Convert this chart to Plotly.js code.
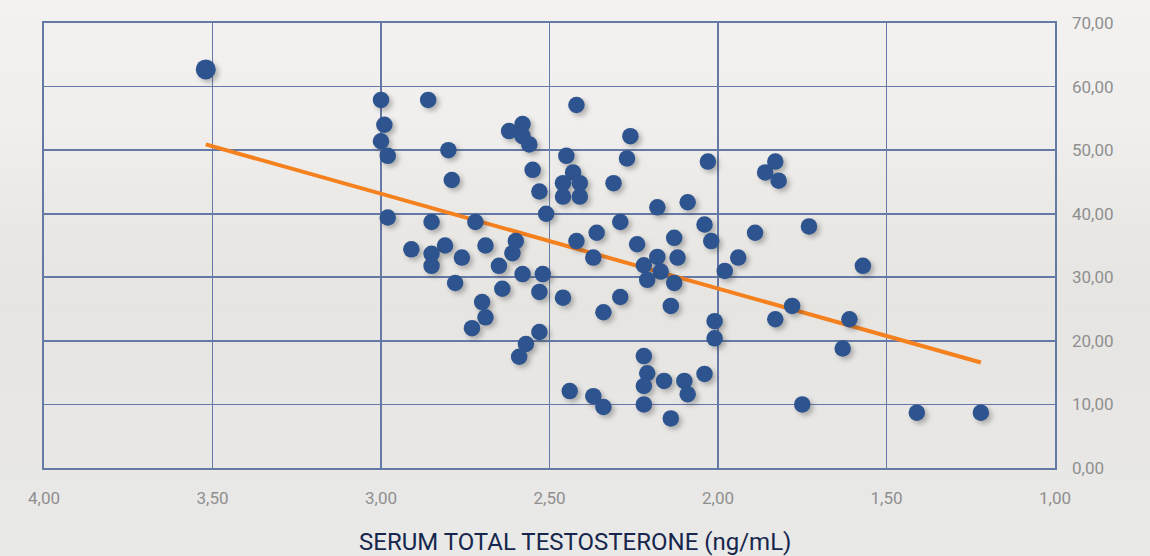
<!DOCTYPE html>
<html>
<head>
<meta charset="utf-8">
<script src="https://cdn.plot.ly/plotly-3.0.1.min.js"></script>
<style>
  html, body { margin:0; padding:0; }
  body {
    width:1150px; height:556px; overflow:hidden;
    background: linear-gradient(180deg, #f3f2f0 0%, #f0efed 22%, #e9e8e5 40%, #e6e5e2 55%, #e8e7e5 75%, #e9e9e7 100%);
  }
  #chart { width:1150px; height:556px; }
  .scatterlayer .trace .points path {
    filter: drop-shadow(3px 3px 2.5px rgba(60,60,60,0.35));
  }
</style>
</head>
<body>
<div id="chart"></div>
<script>
// Serum total testosterone (ng/mL) per subject
const testosterone = [
  3.52, 3.00, 2.86, 2.42, 2.99, 2.58, 2.62, 2.58, 2.56, 2.26,
  3.00, 2.98, 2.80, 2.45, 2.27, 2.55, 2.43, 2.79, 2.46, 2.41,
  2.31, 2.53, 2.46, 2.41, 2.18, 2.09, 2.98, 2.85, 2.72, 2.51,
  2.29, 2.36, 2.42, 2.24, 2.13, 2.91, 2.81, 2.85, 2.76, 2.69,
  2.60, 2.61, 2.37, 2.22, 2.18, 2.12, 2.85, 2.65, 2.17, 2.58,
  2.52, 2.78, 2.64, 2.53, 2.46, 2.21, 2.13, 2.29, 2.34, 2.14,
  2.70, 2.69, 2.73, 2.53, 2.57, 2.59, 2.22, 2.21, 2.22, 2.16,
  2.10, 2.09, 2.44, 2.37, 2.34, 2.22, 2.14, 2.03, 1.83, 1.86,
  1.82, 2.04, 1.89, 1.73, 2.02, 1.94, 1.98, 1.57, 1.78, 1.83,
  1.61, 2.01, 2.01, 1.63, 2.04, 1.75, 1.41, 1.22
];
// Measured value (right axis) per subject
const measured = [
  62.7, 57.9, 57.9, 57.1, 54.0, 54.1, 53.0, 52.2, 50.9, 52.2,
  51.4, 49.1, 50.0, 49.1, 48.7, 46.9, 46.5, 45.3, 44.8, 44.8,
  44.8, 43.5, 42.7, 42.7, 41.0, 41.8, 39.4, 38.7, 38.7, 40.0,
  38.7, 37.0, 35.7, 35.2, 36.2, 34.4, 35.0, 33.7, 33.1, 35.0,
  35.7, 33.8, 33.1, 31.9, 33.2, 33.1, 31.8, 31.8, 30.9, 30.5,
  30.5, 29.1, 28.2, 27.7, 26.8, 29.6, 29.1, 26.9, 24.5, 25.5,
  26.1, 23.7, 22.0, 21.4, 19.5, 17.5, 17.6, 14.9, 12.9, 13.7,
  13.7, 11.6, 12.1, 11.3, 9.6, 10.0, 7.8, 48.2, 48.2, 46.5,
  45.2, 38.3, 37.0, 38.0, 35.7, 33.1, 31.0, 31.8, 25.5, 23.4,
  23.4, 23.1, 20.4, 18.8, 14.8, 10.0, 8.7, 8.7
];
// Linear trend line endpoints
const trendX = [3.52, 1.22];
const trendY = [50.9, 16.6];

const xTicks = [4.0, 3.5, 3.0, 2.5, 2.0, 1.5, 1.0];
const yTicks = [0, 10, 20, 30, 40, 50, 60, 70];
const xTitle = 'SERUM TOTAL TESTOSTERONE (ng/mL)';

const gridColor = '#6479a6';
const tickFont = { family: 'Roboto, "DejaVu Sans", sans-serif', size: 17, color: '#8f8f8f' };

const traces = [
  {
    type: 'scatter', mode: 'lines',
    x: trendX, y: trendY,
    line: { color: '#f5801e', width: 4 },
    hoverinfo: 'skip', showlegend: false
  },
  {
    type: 'scatter', mode: 'markers',
    x: testosterone, y: measured,
    marker: {
      color: '#2d548f',
      opacity: 1,
      size: testosterone.map((v, i) => i === 0 ? 20 : 16.5),
      line: { width: 0 }
    },
    showlegend: false
  }
];

const layout = {
  width: 1150, height: 556,
  margin: { l: 44, r: 95, t: 23, b: 88 },
  paper_bgcolor: 'rgba(0,0,0,0)',
  plot_bgcolor: 'rgba(0,0,0,0)',
  separators: ', ',
  showlegend: false,
  xaxis: {
    range: [4, 1],
    tickvals: xTicks,
    tickformat: '.2f',
    ticks: '',
    showgrid: true, gridcolor: gridColor, gridwidth: 1.6,
    showline: true, linecolor: gridColor, linewidth: 1.6, mirror: true,
    zeroline: false,
    tickfont: tickFont,
    ticklabelstandoff: 14
  },
  yaxis: {
    range: [0, 70],
    side: 'right',
    tickvals: yTicks,
    tickformat: '.2f',
    ticks: '',
    showgrid: true, gridcolor: gridColor, gridwidth: 1.6,
    showline: true, linecolor: gridColor, linewidth: 1.6, mirror: true,
    zeroline: false,
    tickfont: tickFont,
    ticklabelstandoff: 12
  },
  annotations: [{
    text: xTitle,
    xref: 'paper', yref: 'paper',
    x: 0.525, y: -0.166,
    xanchor: 'center', yanchor: 'middle',
    showarrow: false,
    font: { family: 'Roboto, "DejaVu Sans", sans-serif', size: 24, color: '#16264d' }
  }]
};

Plotly.newPlot('chart', traces, layout, { displayModeBar: false, staticPlot: true });
</script>
</body>
</html>
